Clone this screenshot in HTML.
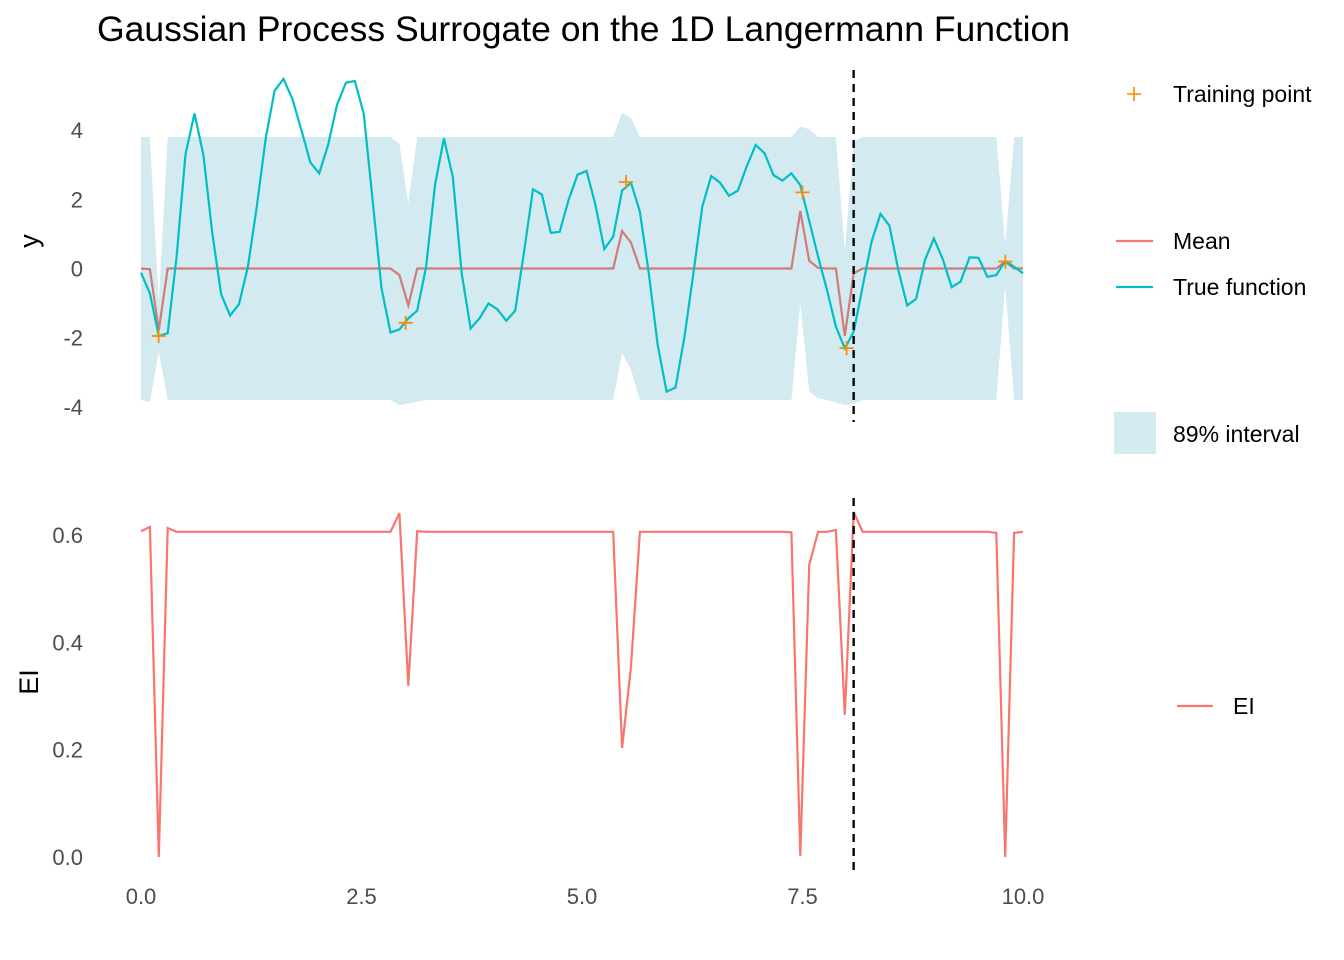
<!DOCTYPE html>
<html><head><meta charset="utf-8"><style>
body{margin:0;background:#fff;}
svg{display:block;font-family:"Liberation Sans",sans-serif;}
</style></head><body>
<svg id="chart" width="1344" height="960" viewBox="0 0 1344 960">
<text x="97" y="41" font-size="35" fill="#000" textLength="973" lengthAdjust="spacingAndGlyphs">Gaussian Process Surrogate on the 1D Langermann Function</text>
<g id="topPanel"></g>
<g id="botPanel"></g>
<text transform="translate(38,241) rotate(-90)" font-size="27" text-anchor="middle">y</text>
<text transform="translate(38,682) rotate(-90)" font-size="27" text-anchor="middle">EI</text>
<g>
<g><path d="M1127 94h14M1134 87v14" stroke="#ff8c00" stroke-width="1.6"/><text x="1173" y="102" font-size="23">Training point</text></g>
<g><path d="M1116 241h37" stroke="#f8766d" stroke-width="2.2"/><text x="1173" y="249" font-size="23">Mean</text></g>
<g><path d="M1116 287h37" stroke="#00bfc4" stroke-width="2.2"/><text x="1173" y="295" font-size="23">True function</text></g>
<g><rect x="1114" y="412" width="42" height="42" fill="#d2eaf0"/><text x="1173" y="442" font-size="23">89% interval</text></g>
<g><path d="M1177 706h36" stroke="#f8766d" stroke-width="2.2"/><text x="1233" y="714" font-size="23">EI</text></g>
</g>
</svg>
<script>
const trueY=[-0.12,-0.72,-1.95,-1.87,0.34,3.30,4.48,3.28,1.02,-0.75,-1.36,-1.03,0.05,1.79,3.76,5.14,5.48,4.89,4.00,3.07,2.75,3.57,4.73,5.37,5.42,4.48,1.98,-0.57,-1.85,-1.76,-1.44,-1.22,0.05,2.41,3.76,2.65,-0.14,-1.73,-1.44,-1.01,-1.18,-1.51,-1.22,0.49,2.29,2.14,1.03,1.06,1.98,2.71,2.82,1.84,0.56,0.92,2.25,2.48,1.64,-0.14,-2.21,-3.56,-3.44,-1.97,-0.14,1.79,2.67,2.48,2.10,2.25,2.96,3.57,3.33,2.70,2.54,2.75,2.41,1.38,0.34,-0.62,-1.68,-2.31,-1.83,-0.53,0.77,1.58,1.24,-0.04,-1.07,-0.88,0.25,0.87,0.27,-0.54,-0.38,0.32,0.31,-0.24,-0.19,0.22,0.05,-0.14];
const meanY=[0,-0.02,-1.78,0,0,0,0,0,0,0,0,0,0,0,0,0,0,0,0,0,0,0,0,0,0,0,0,0,0,-0.19,-1.07,0,0,0,0,0,0,0,0,0,0,0,0,0,0,0,0,0,0,0,0,0,0,0,1.08,0.75,0,0,0,0,0,0,0,0,0,0,0,0,0,0,0,0,0,0,1.66,0.22,0.02,0,0,-1.95,-0.14,0,0,0,0,0,0,0,0,0,0,0,0,0,0,0,0,0.2,0,0];
const upperY=[3.8,3.8,-1.0,3.8,3.8,3.8,3.8,3.8,3.8,3.8,3.8,3.8,3.8,3.8,3.8,3.8,3.8,3.8,3.8,3.8,3.8,3.8,3.8,3.8,3.8,3.8,3.8,3.8,3.8,3.6,1.88,3.8,3.8,3.8,3.8,3.8,3.8,3.8,3.8,3.8,3.8,3.8,3.8,3.8,3.8,3.8,3.8,3.8,3.8,3.8,3.8,3.8,3.8,3.8,4.5,4.34,3.8,3.8,3.8,3.8,3.8,3.8,3.8,3.8,3.8,3.8,3.8,3.8,3.8,3.8,3.8,3.8,3.8,3.8,4.1,4.03,3.8,3.8,3.8,0.49,3.65,3.8,3.8,3.8,3.8,3.8,3.8,3.8,3.8,3.8,3.8,3.8,3.8,3.8,3.8,3.8,3.8,0.7,3.8,3.8];
const lowerY=[-3.8,-3.85,-2.4,-3.8,-3.8,-3.8,-3.8,-3.8,-3.8,-3.8,-3.8,-3.8,-3.8,-3.8,-3.8,-3.8,-3.8,-3.8,-3.8,-3.8,-3.8,-3.8,-3.8,-3.8,-3.8,-3.8,-3.8,-3.8,-3.8,-3.95,-3.9,-3.85,-3.8,-3.8,-3.8,-3.8,-3.8,-3.8,-3.8,-3.8,-3.8,-3.8,-3.8,-3.8,-3.8,-3.8,-3.8,-3.8,-3.8,-3.8,-3.8,-3.8,-3.8,-3.8,-2.44,-2.93,-3.8,-3.8,-3.8,-3.8,-3.8,-3.8,-3.8,-3.8,-3.8,-3.8,-3.8,-3.8,-3.8,-3.8,-3.8,-3.8,-3.8,-3.8,-1.0,-3.56,-3.75,-3.8,-3.87,-3.95,-3.9,-3.8,-3.8,-3.8,-3.8,-3.8,-3.8,-3.8,-3.8,-3.8,-3.8,-3.8,-3.8,-3.8,-3.8,-3.8,-3.8,-0.5,-3.8,-3.8];
const eiY=[0.607,0.615,0.0,0.613,0.606,0.606,0.606,0.606,0.606,0.606,0.606,0.606,0.606,0.606,0.606,0.606,0.606,0.606,0.606,0.606,0.606,0.606,0.606,0.606,0.606,0.606,0.606,0.606,0.606,0.641,0.319,0.607,0.606,0.606,0.606,0.606,0.606,0.606,0.606,0.606,0.606,0.606,0.606,0.606,0.606,0.606,0.606,0.606,0.606,0.606,0.606,0.606,0.606,0.606,0.203,0.355,0.606,0.606,0.606,0.606,0.606,0.606,0.606,0.606,0.606,0.606,0.606,0.606,0.606,0.606,0.606,0.606,0.606,0.605,0.002,0.544,0.606,0.606,0.609,0.265,0.643,0.606,0.606,0.606,0.606,0.606,0.606,0.606,0.606,0.606,0.606,0.606,0.606,0.606,0.606,0.606,0.604,0.0,0.604,0.606];
const trainX=[0.2,3.0,5.5,7.5,8.0,9.8];
const trainY=[-1.95,-1.57,2.5,2.2,-2.3,0.2];
const nextX=8.08;
const xTicks=[0,2.5,5,7.5,10];
const xTickLabels=["0.0","2.5","5.0","7.5","10.0"];
const yTicks=[-4,-2,0,2,4];
const eiTicks=[0,0.2,0.4,0.6];
const eiTickLabels=["0.0","0.2","0.4","0.6"];

const NS="http://www.w3.org/2000/svg";
const sx=v=>141+v*88.2;
const sy=v=>268.5-v*34.6;
const se=v=>857-v*536.7;
const gx=i=>i*10/(trueY.length-1);
function mk(parent,tag,attrs){const e=document.createElementNS(NS,tag);for(const k in attrs)e.setAttribute(k,attrs[k]);parent.appendChild(e);return e;}
const topG=document.getElementById('topPanel'), botG=document.getElementById('botPanel');

let d=upperY.map((v,i)=>(i?'L':'M')+sx(gx(i)).toFixed(1)+' '+sy(v).toFixed(1)).join('');
for(let i=lowerY.length-1;i>=0;i--) d+='L'+sx(gx(i)).toFixed(1)+' '+sy(lowerY[i]).toFixed(1);
let rib=mk(topG,'path',{d:d+'Z',fill:'#d2eaf0'});



let ml=mk(topG,'path',{d:meanY.map((v,i)=>(i?'L':'M')+sx(gx(i)).toFixed(1)+' '+sy(v).toFixed(1)).join(''),fill:'none',stroke:'#cf7c7a','stroke-width':2.2});



let tl=mk(topG,'path',{d:trueY.map((v,i)=>(i?'L':'M')+sx(gx(i)).toFixed(1)+' '+sy(v).toFixed(1)).join(''),fill:'none',stroke:'#00bfc4','stroke-width':2.2});



trainX.forEach((x,i)=>{const X=sx(x),Y=sy(trainY[i]);
 let p=mk(topG,'path',{d:`M${X-7} ${Y}h14M${X} ${Y-7}v14`,stroke:'#ff8c00','stroke-width':1.8});
 
 });

yTicks.forEach(t=>{let e=mk(topG,'text',{x:83,y:sy(t)+8,'font-size':22,fill:'#4d4d4d','text-anchor':'end'});e.textContent=t;
 
 });

let el=mk(botG,'path',{d:eiY.map((v,i)=>(i?'L':'M')+sx(gx(i)).toFixed(1)+' '+se(v).toFixed(1)).join(''),fill:'none',stroke:'#f8766d','stroke-width':2.2});



eiTicks.forEach((t,i)=>{let e=mk(botG,'text',{x:83,y:se(t)+8,'font-size':22,fill:'#4d4d4d','text-anchor':'end'});e.textContent=eiTickLabels[i];
 
 });

xTicks.forEach((t,i)=>{let e=mk(botG,'text',{x:sx(t),y:904,'font-size':22,fill:'#4d4d4d','text-anchor':'middle'});e.textContent=xTickLabels[i];
 
 });

let v1=mk(topG,'line',{x1:sx(nextX),x2:sx(nextX),y1:70,y2:422,stroke:'#000','stroke-width':2.4,'stroke-dasharray':'8 6'});


let v2=mk(botG,'line',{x1:sx(nextX),x2:sx(nextX),y1:498,y2:875,stroke:'#000','stroke-width':2.4,'stroke-dasharray':'8 6'});


</script>
</body></html>
